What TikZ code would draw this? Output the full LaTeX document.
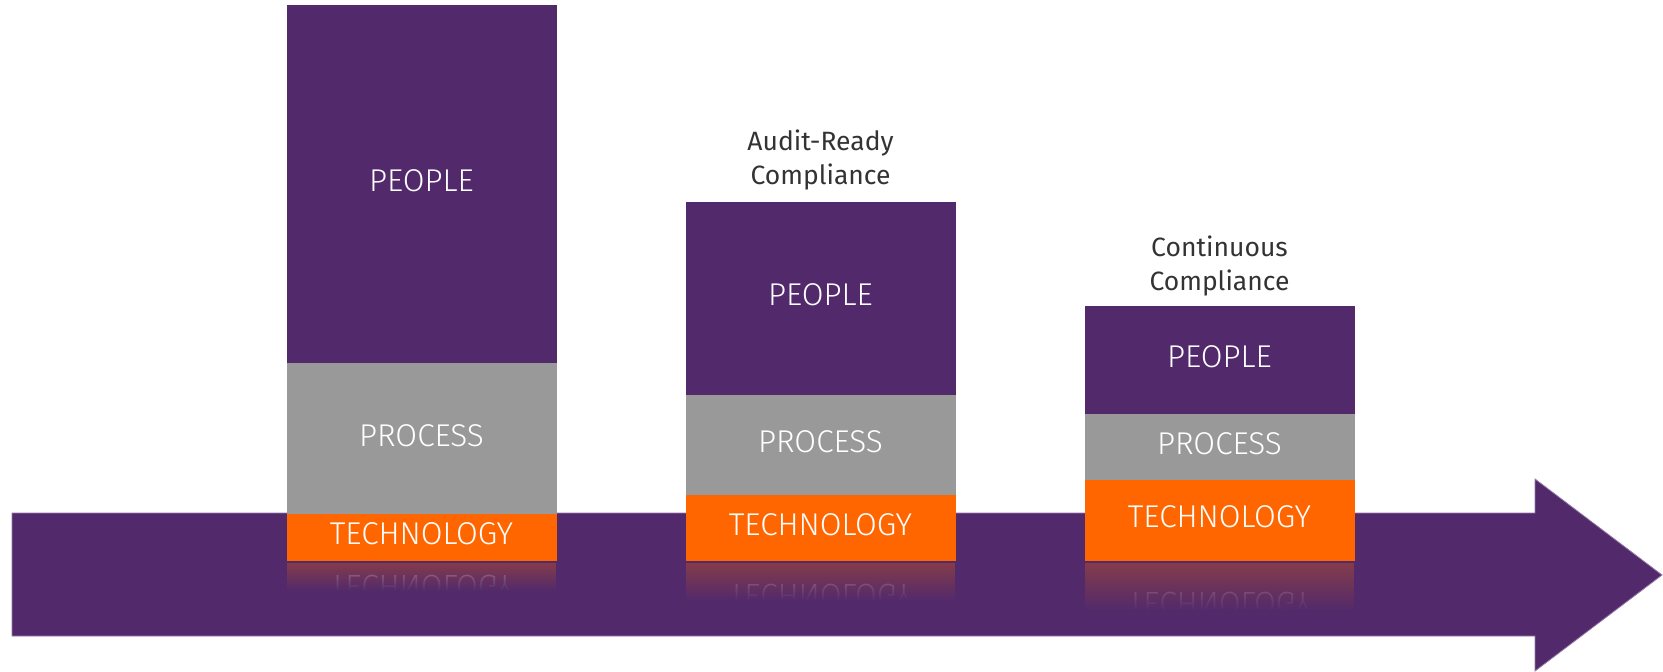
\documentclass[tikz,border=0pt]{standalone}
\usepackage{fontspec}
\setmainfont{Fira Sans}
\newfontfamily\thinfont{Fira Sans Light}
\usetikzlibrary{fadings}
\definecolor{pur}{RGB}{82,42,107}
\definecolor{purlight}{RGB}{150,120,170}
\definecolor{org}{RGB}{255,102,0}
\definecolor{gry}{RGB}{153,153,153}
\definecolor{lbl}{RGB}{51,51,51}
\tikzfading[name=fadein, top color=transparent!100, bottom color=transparent!0]
\tikzset{
  blk/.style={minimum width=269pt, inner sep=0pt, text=white, anchor=north,
    font=\thinfont\fontsize{31.5}{31}\selectfont, text height=22pt, text depth=7pt},
  ppl/.style={blk, fill=pur, draw=pur, line width=0.4pt},
  prc/.style={blk, fill=gry, draw=gry, line width=0.4pt},
  tec/.style={blk, fill=org, draw=org, line width=0.4pt},
  lab/.style={text=lbl, font=\fontsize{26.5}{34}\selectfont, align=center},
}
\begin{document}
\begin{tikzpicture}[x=1pt,y=-1pt]
\useasboundingbox (0,0) rectangle (1663,672);
% big arrow
\filldraw[fill=pur, draw=purlight, line width=0.8pt] (12,513) -- (1535,513) -- (1535,479) -- (1662,575) -- (1535,671) -- (1535,636) -- (12,636) -- cycle;
% reflections
\foreach \cx/\ty/\ry in {421.5/536/590, 820.5/526.5/600, 1219.5/519/610}{
  \fill[org!30!pur] (\cx-134.5,563) rectangle (\cx+134.5,\ry);
  \begin{scope}
    \clip (\cx-134.5,563) rectangle (\cx+134.5,\ry);
    \node[text=white, opacity=0.35, yscale=-1, transform shape, font=\thinfont\fontsize{31.5}{31}\selectfont, text height=22pt, text depth=0pt, inner sep=0pt] at (\cx,{2*561-\ty}) {TECHNOLOGY};
  \end{scope}
  \fill[pur, path fading=fadein] (\cx-134.5,562) rectangle (\cx+134.5,\ry+1);
}
% bar 1
\node[ppl, minimum height=358pt] (p1) at (421.5,5) {PEOPLE};
\node[prc, minimum height=150pt] (r1) at (p1.south) {PROCESS};
\node[tec, minimum height=46pt] (t1) at (r1.south) {TECHNOLOGY};
% bar 2
\node[ppl, minimum height=193pt] (p2) at (820.5,201.5) {PEOPLE};
\node[prc, minimum height=99.5pt] (r2) at (p2.south) {PROCESS};
\node[tec, minimum height=65pt] (t2) at (r2.south) {TECHNOLOGY};
% bar 3
\node[ppl, minimum height=108pt] (p3) at (1219.5,305.5) {PEOPLE};
\node[prc, minimum height=65.5pt] (r3) at (p3.south) {PROCESS};
\node[tec, minimum height=80pt] (t3) at (r3.south) {TECHNOLOGY};
% labels
\node[lab] (l2) at (820.5,160) {Audit-Ready\\Compliance};
\node[lab] (l3) at (1219.5,265.5) {Continuous\\Compliance};
\end{tikzpicture}
\end{document}
